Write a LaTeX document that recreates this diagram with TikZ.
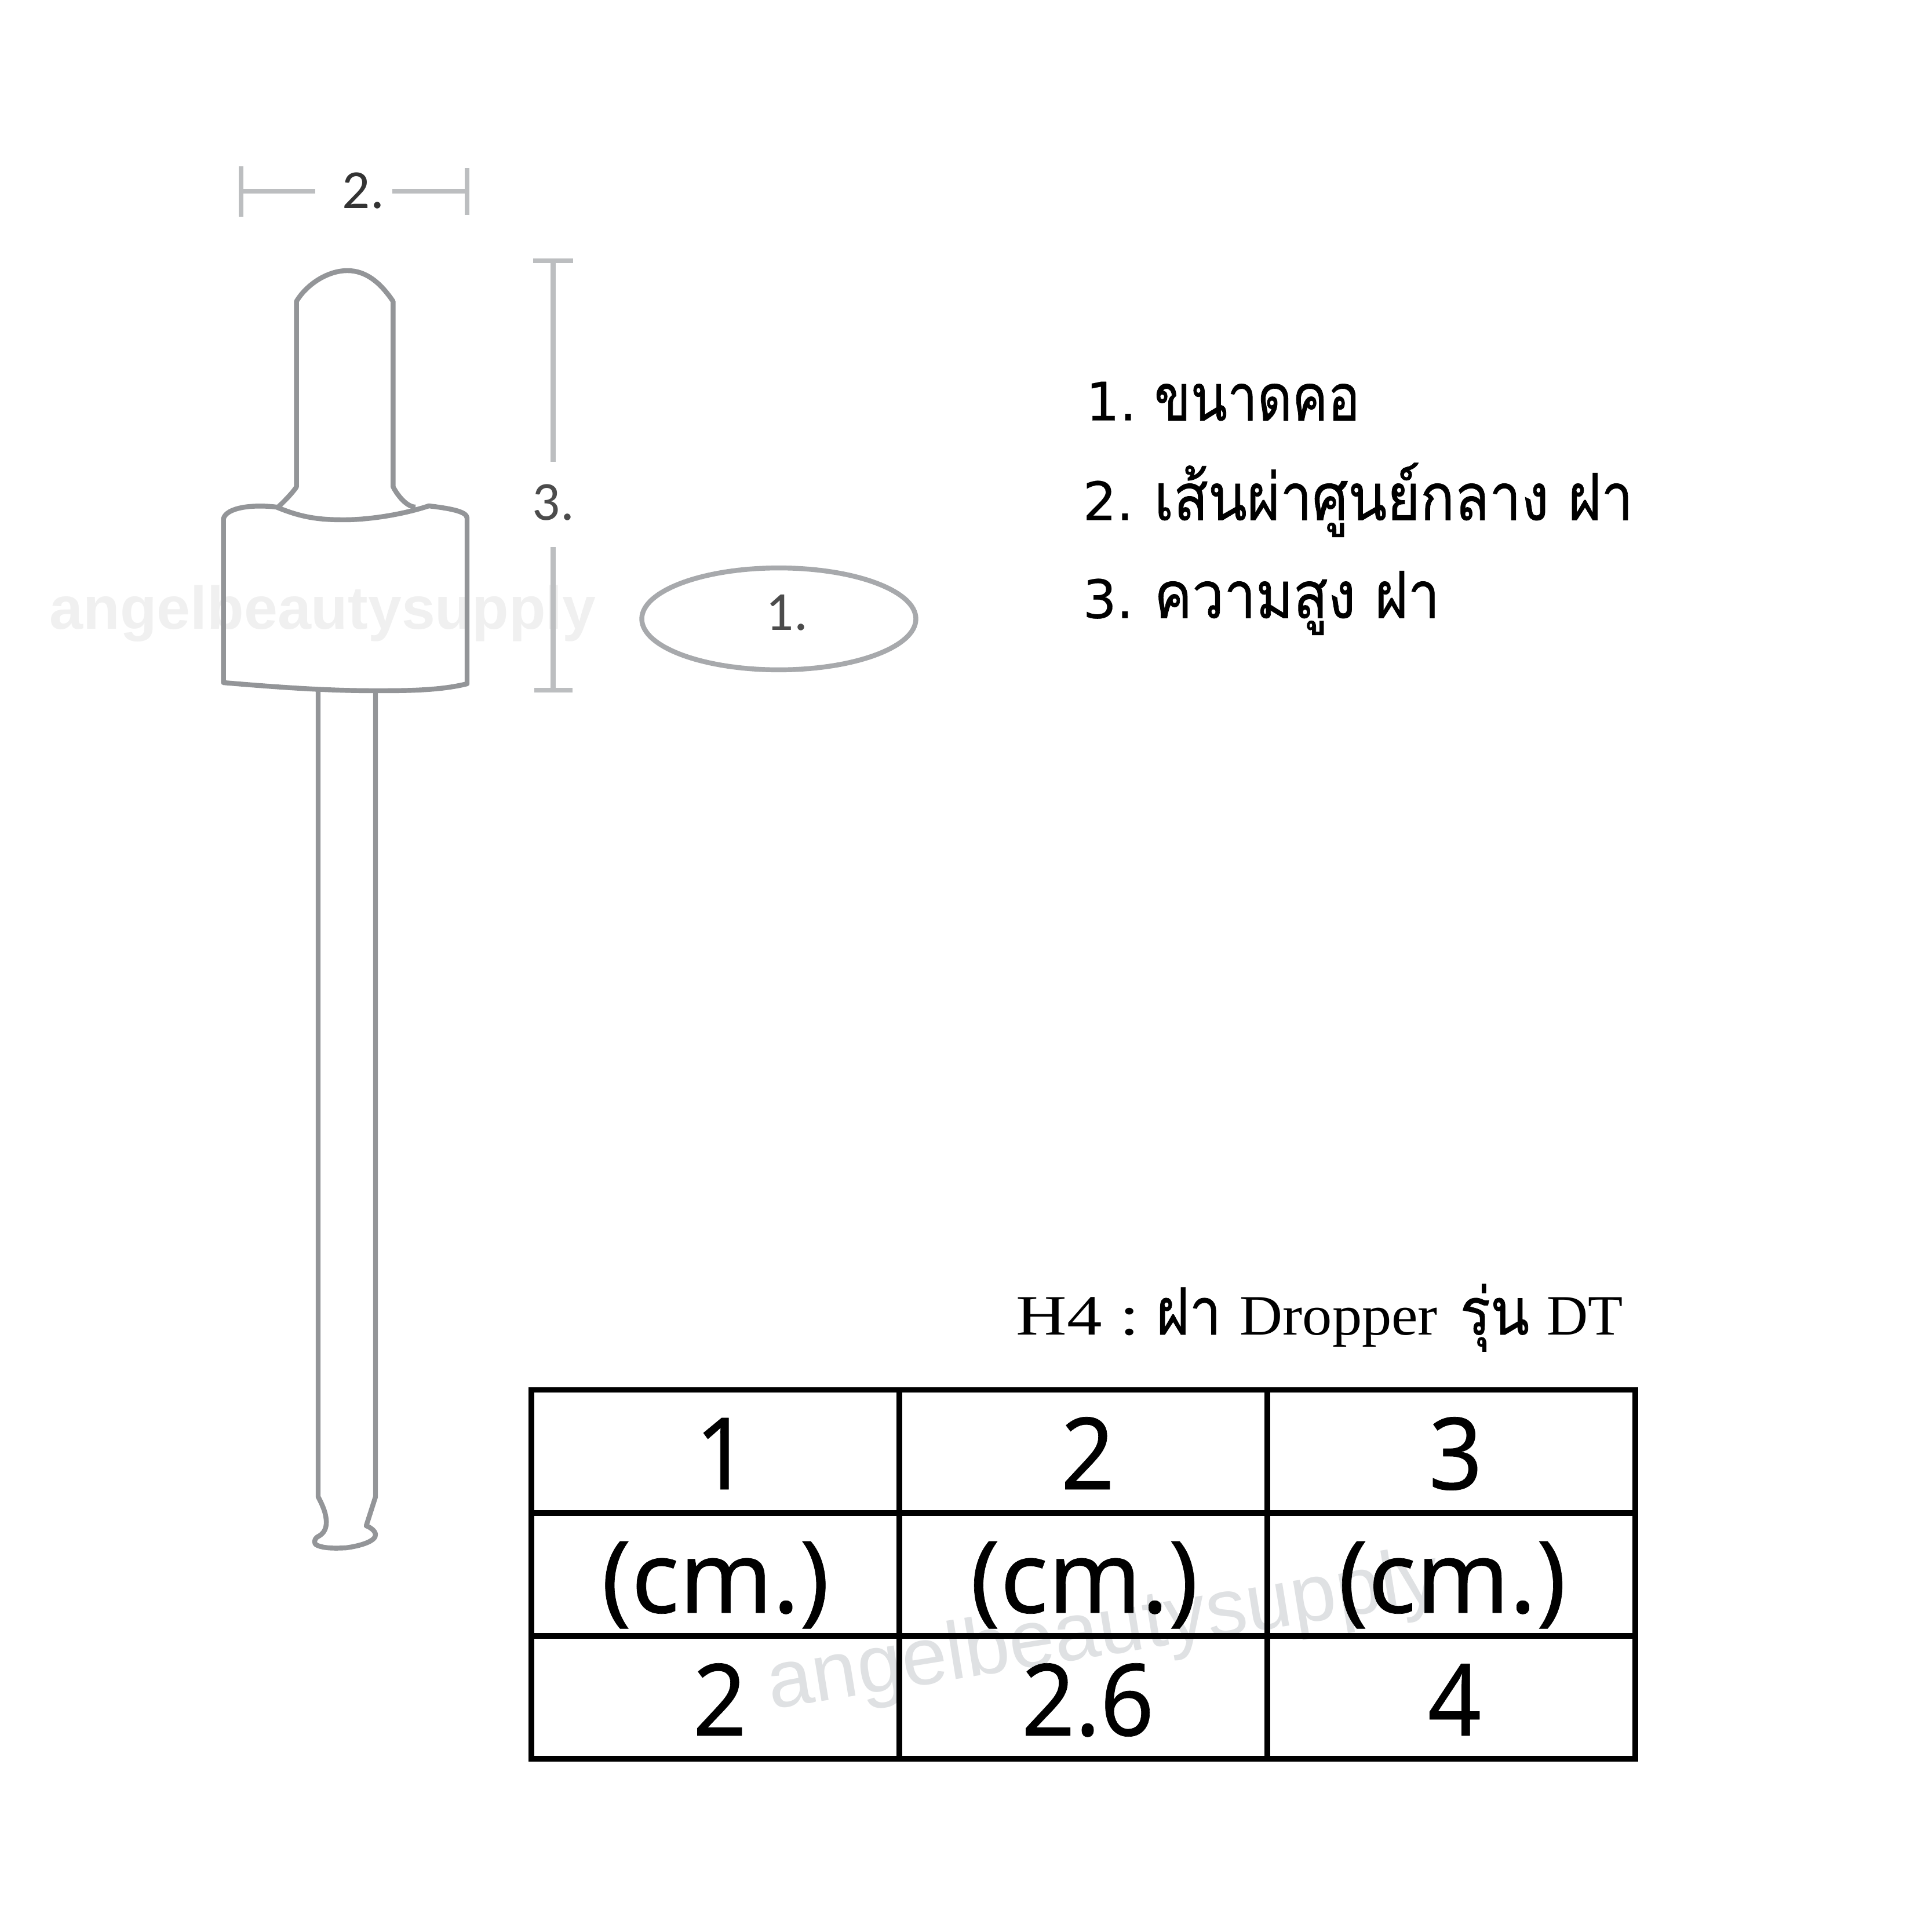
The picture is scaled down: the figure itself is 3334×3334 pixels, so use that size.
\documentclass[tikz,border=0pt]{standalone}
\usepackage{fontspec}
\setmainfont{Noto Sans}
\newfontfamily\cellfont[FakeBold=0.4]{Noto Sans}
\newfontfamily\digitfont[FakeBold=0.4,FakeStretch=0.94]{Noto Sans}
\newfontfamily\thaifont[Script=Thai,FakeStretch=0.87,FakeBold=0.7]{Loma}
\newfontfamily\thainarrow[Script=Thai,FakeStretch=0.82,FakeBold=0.7]{Loma}
\newfontfamily\numfont[FakeBold=0.3]{DejaVu Sans}
\newfontfamily\dimfont{Carlito}
\newfontfamily\titlefont{Liberation Serif}
\newfontfamily\titlewide[FakeStretch=1.23]{Liberation Serif}
\newfontfamily\titlemid[FakeStretch=1.04]{Liberation Serif}
\newfontfamily\markfont{Liberation Sans}
\usetikzlibrary{positioning,shapes.geometric}
\definecolor{dropgray}{HTML}{939598}
\definecolor{dimgray}{HTML}{BCBEC0}
\definecolor{ovalgray}{HTML}{A7A9AC}
\definecolor{markgray}{HTML}{DFE1E3}
\newcommand{\listnum}[1]{\makebox[35pt][l]{\numfont\fontsize{26}{26}\selectfont #1}}
\newcommand{\titlethai}[1]{{\thaifont\fontsize{32}{32}\selectfont #1}}
\tikzset{
  dropline/.style={draw=dropgray,line width=2.4pt,line join=round},
  dimline/.style={draw=dimgray,line width=2.35pt},
  dimlabel/.style={font=\dimfont\fontsize{27}{27}\selectfont,anchor=base},
  listitem/.style={font=\thaifont\fontsize{32}{32}\selectfont,anchor=base west},
  cell/.style={font=\cellfont\fontsize{49}{49}\selectfont,anchor=base},
  digit/.style={cell,font=\digitfont\fontsize{49}{49}\selectfont},
  gridline/.style={draw=black,line width=2.65pt},
}
\begin{document}
\begin{tikzpicture}[x=0.01cm,y=0.01cm]
\tikzstyle{every node}+=[inner sep=0pt]
\useasboundingbox (0,0) rectangle (3334,-3334);
\fill [white] (0,0) rectangle (3334,-3334);
% watermarks
\node (markone) [anchor=base west,text=black!6,font=\markfont\bfseries\fontsize{29.6}{29.6}\selectfont] at (85,-1085) {angelbeautysupply};
\node (marktwo) [anchor=base west,rotate=9.2,text=markgray,font=\markfont\fontsize{40}{40}\selectfont] at (1331,-2950) {angelbeautysupply};
% dropper
\draw [dropline] (481,-874) .. controls (497,-859) and (509,-845) .. (511.6,-840) -- (511.6,-520)
  .. controls (529,-491) and (565,-467) .. (599.5,-467) .. controls (631,-467) and (656,-487) .. (678.3,-520)
  -- (678.3,-840) .. controls (686,-855) and (702,-875) .. (717,-875);
\draw [dropline] (477,-875) .. controls (520,-893) and (550,-897) .. (593,-897) .. controls (640,-897) and (698,-887) .. (740,-873)
  .. controls (773,-877) and (806,-882) .. (806,-894) -- (806,-1180)
  .. controls (758,-1192) and (698,-1192) .. (647,-1192) .. controls (558,-1192) and (469,-1185) .. (385.6,-1178)
  -- (385.6,-895) .. controls (391,-876) and (434,-870) .. (477,-875) -- cycle;
\draw [dropline] (549,-1192) -- (549,-2583) .. controls (558,-2600) and (564,-2615) .. (563,-2630)
  .. controls (562,-2642) and (556,-2648) .. (548,-2652) .. controls (542,-2656) and (540,-2664) .. (548,-2667)
  .. controls (560,-2672) and (578,-2672) .. (597,-2671) .. controls (620,-2668) and (650,-2660) .. (648,-2647)
  .. controls (647,-2642) and (640,-2636) .. (632,-2633) -- (648,-2583) -- (648,-1192);
% width mark
\node (labtwo) [dimlabel,text=black!80] at (627,-360) {2.};
\coordinate (wl) at (416,-330);
\coordinate (wr) at (806,-330);
\coordinate (wlm) at (544,-330);
\coordinate (wrm) at (677,-330);
\draw [dimline] (416,-287) -- (416,-374);
\draw [dimline] (806,-290) -- (806,-371);
\draw [dimline] (wl) -- (wlm);
\draw [dimline] (wrm) -- (wr);
% height mark
\node (labthree) [dimlabel,text=black!70] at (955,-897) {3.};
\coordinate (ht) at (954.5,-450);
\coordinate (htm) at (954.5,-797);
\coordinate (hbm) at (954.5,-944);
\coordinate (hb) at (954.5,-1191);
\draw [dimline] (920,-450) -- (989,-450);
\draw [dimline] (922,-1191) -- (988,-1191);
\draw [dimline] (ht) -- (htm);
\draw [dimline] (hbm) -- (hb);
% neck oval
\node (oval) [draw=ovalgray,line width=2.4pt,ellipse,minimum width=134.5pt,minimum height=50pt] at (1344,-1068) {};
\node (labone) [dimlabel,text=black!70] at (1358,-1087) {1.};
% list
\node (itemone) [listitem] at (1868,-725.5) {\listnum{\hspace*{1.5pt}1.}{\thainarrow ขนาดคอ}};
\node (itemtwo) [listitem] at (1868,-897.5) {\listnum{2.}เส้นผ่าศูนย์กลาง ฝา};
\node (itemthree) [listitem] at (1868,-1066.5) {\listnum{3.}ความสูง ฝา};
% title
\node (title) [anchor=base east,font=\titlefont\fontsize{28}{28}\selectfont] at (2801,-2303) {{\titlewide H4 :}\kern-1pt{} \titlethai{ฝา}\kern2.2pt{} {\titlemid Dropper}\kern4pt{} \titlethai{รุ่น}\kern1.5pt{} DT};
% table
\draw [gridline] (917,-2398.7) rectangle (2822,-3035);
\draw [gridline] (917,-2611) -- (2822,-2611);
\draw [gridline] (917,-2823) -- (2822,-2823);
\draw [gridline] (1552,-2398.7) -- (1552,-3035);
\draw [gridline] (2187,-2398.7) -- (2187,-3035);
\node (heada) [digit] at (1246,-2570) {1};
\node (headb) [digit] at (1877,-2570) {2};
\node (headc) [digit] at (2512,-2570) {3};
\begin{scope}
\clip (917,-2655) rectangle (2822,-2817);
\node (unita) [cell] at (1234.5,-2783) {(cm.)};
\node (unitb) [cell] at (1871,-2783) {(cm.)};
\node (unitc) [cell] at (2506,-2783) {(cm.)};
\end{scope}
\node (vala) [digit] at (1242,-2995) {2};
\node (valb) [digit] at (1877,-2995) {2.6};
\node (valc) [digit] at (2510,-2995) {4};
\end{tikzpicture}
\end{document}
